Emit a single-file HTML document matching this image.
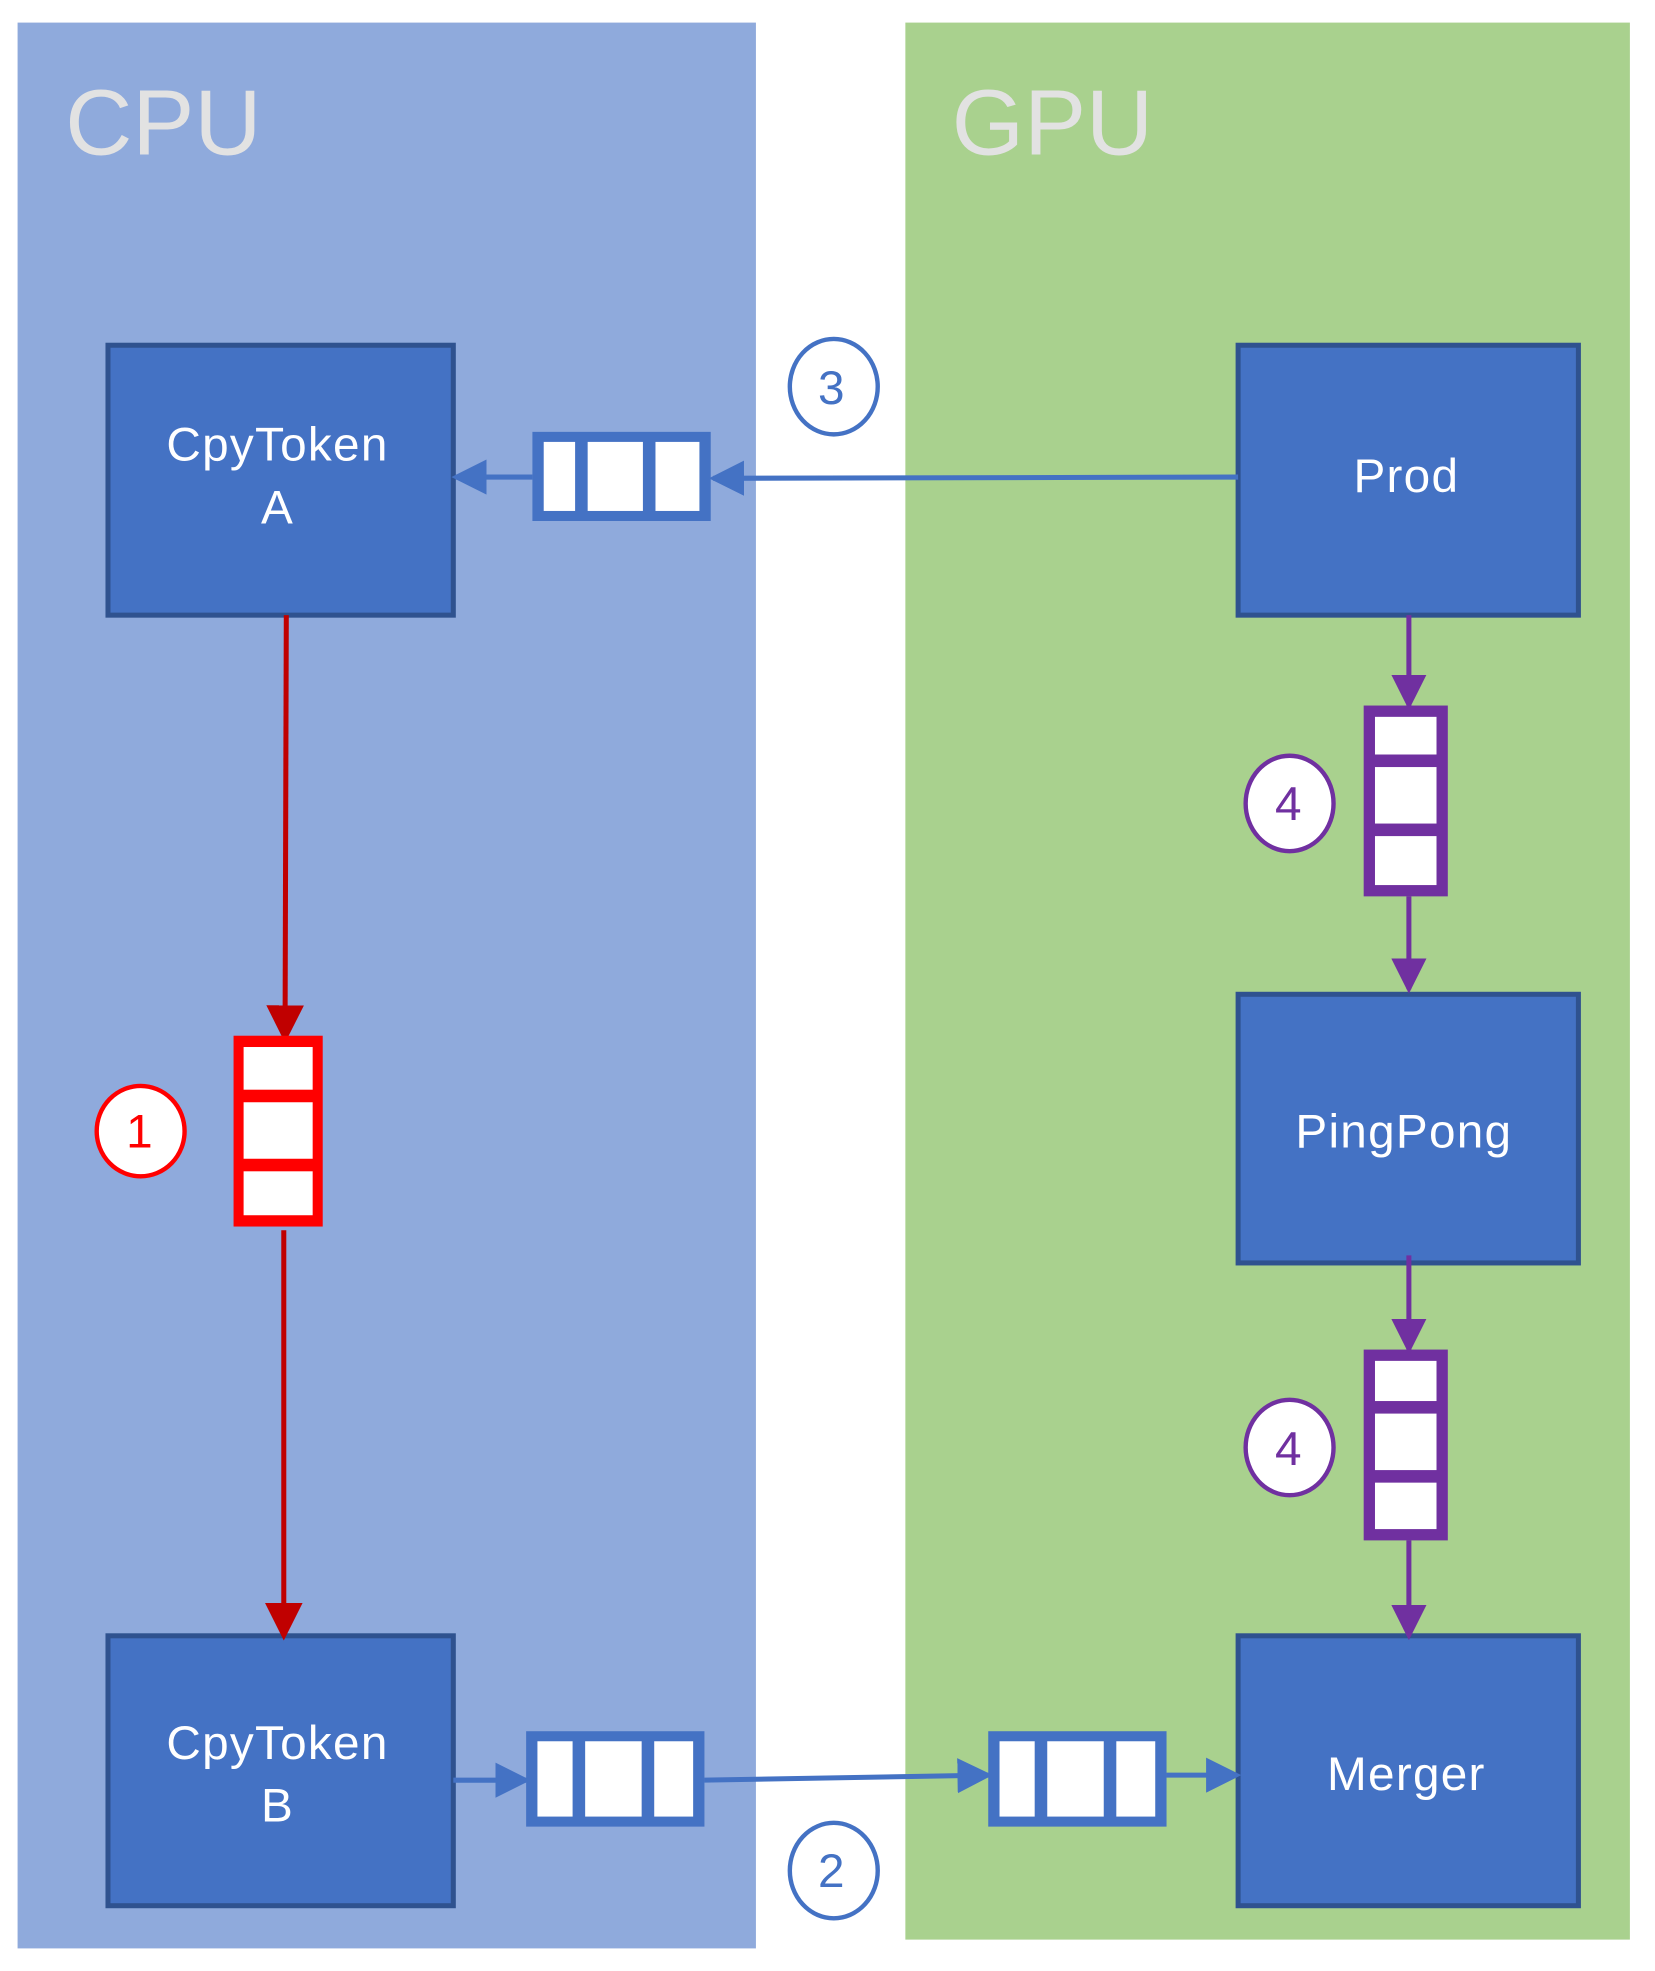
<!DOCTYPE html>
<html><head><meta charset="utf-8"><style>html,body{margin:0;padding:0;background:#fff}svg{display:block}</style></head>
<body>
<svg width="1655" height="1971" viewBox="0 0 1318 1570" preserveAspectRatio="none" xmlns="http://www.w3.org/2000/svg" font-family="'Liberation Sans', sans-serif">
<defs>
<marker id="ar" viewBox="0 0 8 8" markerWidth="30" markerHeight="30" refX="7" refY="4" orient="auto" markerUnits="userSpaceOnUse"><path d="M0,0 L8,4 L0,8z" fill="#C00000"/></marker>
<marker id="ap" viewBox="0 0 8 8" markerWidth="28" markerHeight="28" refX="7" refY="4" orient="auto" markerUnits="userSpaceOnUse"><path d="M0,0 L8,4 L0,8z" fill="#7030A0"/></marker>
<marker id="abl" viewBox="0 0 8 8" markerWidth="28" markerHeight="28" refX="7" refY="4" orient="auto" markerUnits="userSpaceOnUse"><path d="M0,0 L8,4 L0,8z" fill="#4472C4"/></marker>
</defs>
<rect x="14" y="18" width="588" height="1534" fill="#8FAADC"/>
<rect x="721" y="18" width="577" height="1527" fill="#A9D18E"/>
<text x="52" y="123" font-size="74" fill="#E2E2E2">CPU</text>
<text x="758" y="123" font-size="74" fill="#E2E2E2">GPU</text>
<g fill="#4472C4" stroke="#2F528F" stroke-width="4">
<rect x="86" y="275" width="275" height="215"/>
<rect x="986" y="275" width="271" height="215"/>
<rect x="986" y="792" width="271" height="214"/>
<rect x="86" y="1303" width="275" height="215"/>
<rect x="986" y="1303" width="271" height="215"/>
</g>
<g fill="#fff" font-size="38" text-anchor="middle" letter-spacing="1">
<text x="221" y="367">CpyToken</text><text x="221" y="417">A</text>
<text x="1120" y="392">Prod</text>
<text x="1118" y="914">PingPong</text>
<text x="221" y="1401">CpyToken</text><text x="221" y="1451">B</text>
<text x="1120" y="1426">Merger</text>
</g>
<g stroke-width="4" fill="none">
<line x1="986" y1="380" x2="568" y2="381" stroke="#4472C4" marker-end="url(#abl)"/>
<line x1="424" y1="380" x2="363" y2="380" stroke="#4472C4" marker-end="url(#abl)"/>
<line x1="228" y1="490" x2="227" y2="827" stroke="#C00000" marker-end="url(#ar)"/>
<line x1="226" y1="980" x2="226" y2="1303" stroke="#C00000" marker-end="url(#ar)"/>
<line x1="1122" y1="490" x2="1122" y2="562" stroke="#7030A0" marker-end="url(#ap)"/>
<line x1="1122" y1="714" x2="1122" y2="788" stroke="#7030A0" marker-end="url(#ap)"/>
<line x1="1122" y1="1000" x2="1122" y2="1075" stroke="#7030A0" marker-end="url(#ap)"/>
<line x1="1122" y1="1227" x2="1122" y2="1303" stroke="#7030A0" marker-end="url(#ap)"/>
<line x1="361" y1="1418" x2="419" y2="1418" stroke="#4472C4" marker-end="url(#abl)"/>
<line x1="561" y1="1418" x2="787" y2="1414" stroke="#4472C4" marker-end="url(#abl)"/>
<line x1="929" y1="1414" x2="985" y2="1414" stroke="#4472C4" marker-end="url(#abl)"/>
</g>
<g fill="#4472C4">
<rect x="424" y="344" width="142" height="71"/>
<rect x="419" y="1379" width="142" height="76"/>
<rect x="787" y="1379" width="142" height="76"/>
</g>
<g fill="#fff">
<rect x="433" y="352" width="25" height="55"/><rect x="468" y="352" width="44" height="55"/><rect x="522" y="352" width="35" height="55"/>
<rect x="428" y="1387" width="28" height="60"/><rect x="466" y="1387" width="45" height="60"/><rect x="521" y="1387" width="31" height="60"/>
<rect x="796" y="1387" width="28" height="60"/><rect x="834" y="1387" width="45" height="60"/><rect x="889" y="1387" width="31" height="60"/>
</g>
<rect x="186" y="825" width="71" height="152" fill="#FF0000"/>
<g fill="#fff"><rect x="194" y="834" width="55" height="34"/><rect x="194" y="878" width="55" height="45"/><rect x="194" y="933" width="55" height="35"/></g>
<rect x="1086" y="562" width="67" height="152" fill="#7030A0"/>
<g fill="#fff"><rect x="1095" y="571" width="49" height="30"/><rect x="1095" y="611" width="49" height="45"/><rect x="1095" y="666" width="49" height="39"/></g>
<rect x="1086" y="1075" width="67" height="152" fill="#7030A0"/>
<g fill="#fff"><rect x="1095" y="1084" width="49" height="32"/><rect x="1095" y="1126" width="49" height="45"/><rect x="1095" y="1181" width="49" height="37"/></g>
<g fill="#fff" stroke-width="3.5">
<ellipse cx="664" cy="308" rx="35" ry="38" stroke="#4472C4"/>
<ellipse cx="664" cy="1490" rx="35" ry="38" stroke="#4472C4"/>
<ellipse cx="112" cy="901" rx="35" ry="36" stroke="#FF0000"/>
<ellipse cx="1027" cy="640" rx="35" ry="38" stroke="#7030A0"/>
<ellipse cx="1027" cy="1153" rx="35" ry="38" stroke="#7030A0"/>
</g>
<g font-size="38" text-anchor="middle">
<text x="662" y="322" fill="#4472C4">3</text>
<text x="662" y="1503" fill="#4472C4">2</text>
<text x="111" y="914" fill="#FF0000">1</text>
<text x="1026" y="653" fill="#7030A0">4</text>
<text x="1026" y="1167" fill="#7030A0">4</text>
</g>
</svg>
</body></html>
